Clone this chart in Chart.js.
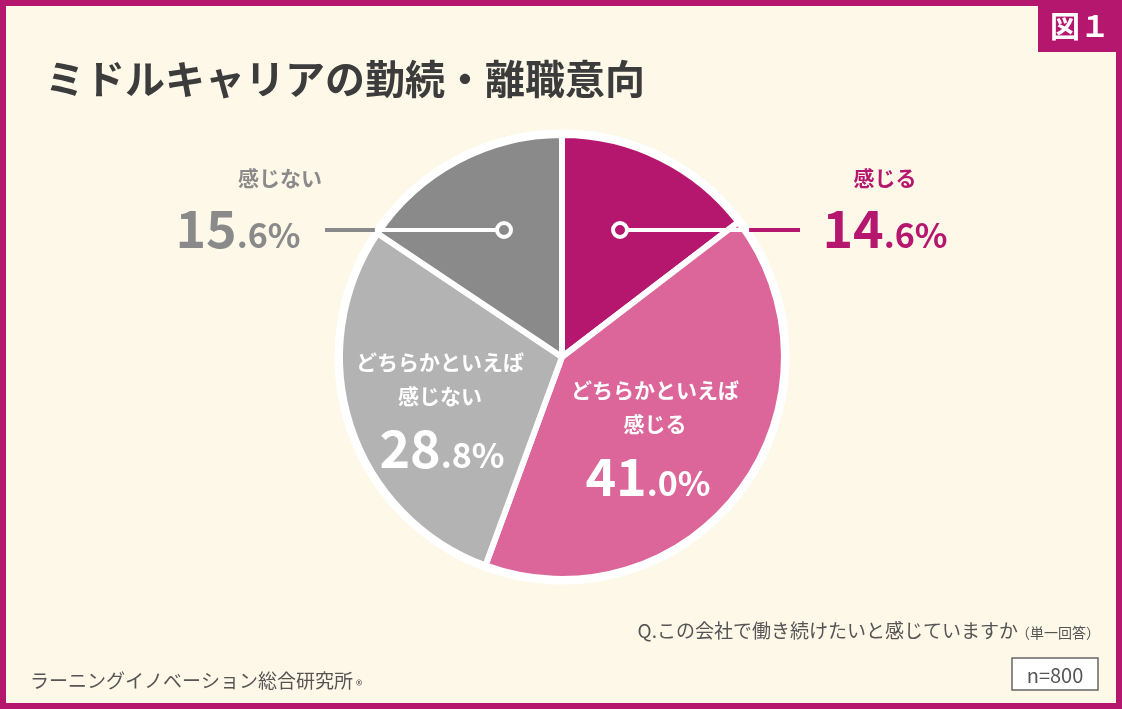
<!DOCTYPE html>
<html><head><meta charset="utf-8">
<script src="https://cdn.jsdelivr.net/npm/chart.js@4"></script>
<style>html,body{margin:0;padding:0;background:#FEF8E8}#w{width:1122px;height:709px;position:relative}</style>
</head><body><div id="w"><canvas id="c"></canvas></div>
<script>
const categories=["感じる","どちらかといえば感じる","どちらかといえば感じない","感じない"];
const values=[14.6,41.0,28.8,15.6];
const colors=["#B5176F","#DC6699","#B3B3B3","#8A8A8A"];
const F='"Noto Sans CJK JP","Noto Sans",sans-serif';
function pct(ctx,v,x,y,big,small,col,align){
  const s=v.toFixed(1).split('.');const a=s[0],b='.'+s[1]+'%';
  ctx.font='bold '+big+'px '+F;const wa=ctx.measureText(a).width;
  ctx.font='bold '+small+'px '+F;const wb=ctx.measureText(b).width;
  let x0=align==='center'?x-(wa+wb)/2:align==='right'?x-wa-wb:x;
  ctx.fillStyle=col;ctx.textAlign='left';ctx.textBaseline='alphabetic';
  ctx.font='bold '+big+'px '+F;ctx.fillText(a,x0,y);
  ctx.font='bold '+small+'px '+F;ctx.fillText(b,x0+wa,y);
}
const deco={id:'deco',
 beforeDraw(ch){const c=ch.ctx;c.save();c.fillStyle='#FEF8E8';c.fillRect(0,0,1122,709);
  c.strokeStyle='#B5176F';c.lineWidth=6;c.strokeRect(3,3,1116,703);
  c.fillStyle='#B5176F';c.fillRect(1038,0,84,52);
  c.fillStyle='#fff';c.font='bold 30px '+F;c.textAlign='center';c.textBaseline='middle';c.fillText('図１',1080,26);
  c.fillStyle='#3c3c3c';c.font='bold 40px '+F;c.textAlign='left';c.textBaseline='alphabetic';c.fillText('ミドルキャリアの勤続・離職意向',45,94);
  c.fillStyle='#555';c.font='19px '+F;c.textAlign='right';c.fillText('Q.この会社で働き続けたいと感じていますか',1018,638);
  c.font='14px '+F;c.textAlign='left';c.fillText('（単一回答）',1016,638);
  c.font='19px '+F;c.fillText('ラーニングイノベーション総合研究所',30,688);c.font='13px '+F;c.fillText('®',356,690);
  c.fillStyle='#fff';c.fillRect(1012,658,86,32);c.strokeStyle='#666';c.lineWidth=1.5;c.strokeRect(1012,658,86,32);
  c.fillStyle='#555';c.font='20px '+F;c.textAlign='center';c.textBaseline='middle';c.fillText('n=800',1055,675);
  c.restore();},
 afterDatasetsDraw(ch){const c=ch.ctx;c.save();
  const m=ch.getDatasetMeta(0).data;
  const cx=m[0].x,cy=m[0].y,r=m[0].outerRadius,y=230;
  c.strokeStyle='#fff';c.lineWidth=7;c.beginPath();c.arc(cx,cy,r+2,0,Math.PI*2);c.stroke();
  function lead(x1,x2,y,col,edge){c.lineWidth=4;c.strokeStyle='#fff';c.beginPath();c.moveTo(x1,y);c.lineTo(edge,y);c.stroke();
   c.strokeStyle=col;c.beginPath();c.moveTo(edge,y);c.lineTo(x2,y);c.stroke();
   c.fillStyle=col;c.beginPath();c.arc(x1,y,7,0,Math.PI*2);c.fill();c.strokeStyle='#fff';c.lineWidth=4;c.stroke();}
  const dx=Math.sqrt(r*r-(y-cy)*(y-cy))+5;
  lead(cx+58,800,y,colors[0],cx+dx);
  lead(cx-58,325,y,colors[3],cx-dx);
  c.textBaseline='alphabetic';c.textAlign='center';
  c.fillStyle=colors[0];c.font='bold 21px '+F;c.fillText(categories[0],885,186);
  pct(c,values[0],885,248,52,34,colors[0],'center');
  c.fillStyle=colors[3];c.font='bold 21px '+F;c.fillText(categories[3],238,186);
  pct(c,values[3],238,248,52,34,colors[3],'center');
  c.fillStyle='#fff';c.font='bold 21px '+F;c.textAlign='center';
  c.fillText('どちらかといえば',655,398);c.fillText('感じる',655,432);
  pct(c,values[1],648,496,52,34,'#fff','center');
  c.fillStyle='#fff';c.font='bold 21px '+F;c.textAlign='center';
  c.fillText('どちらかといえば',440,370);c.fillText('感じない',440,404);
  pct(c,values[2],442,468,52,34,'#fff','center');
  c.restore();}
};
new Chart(document.getElementById('c'),{type:'pie',
 data:{labels:categories,datasets:[{data:values,backgroundColor:colors,borderColor:'#fff',borderWidth:6}]},
 options:{responsive:true,maintainAspectRatio:false,animation:false,
  layout:{padding:{left:337,right:335,top:132,bottom:127}},
  plugins:{legend:{display:false},tooltip:{enabled:false}}},
 plugins:[deco]});
</script></body></html>
